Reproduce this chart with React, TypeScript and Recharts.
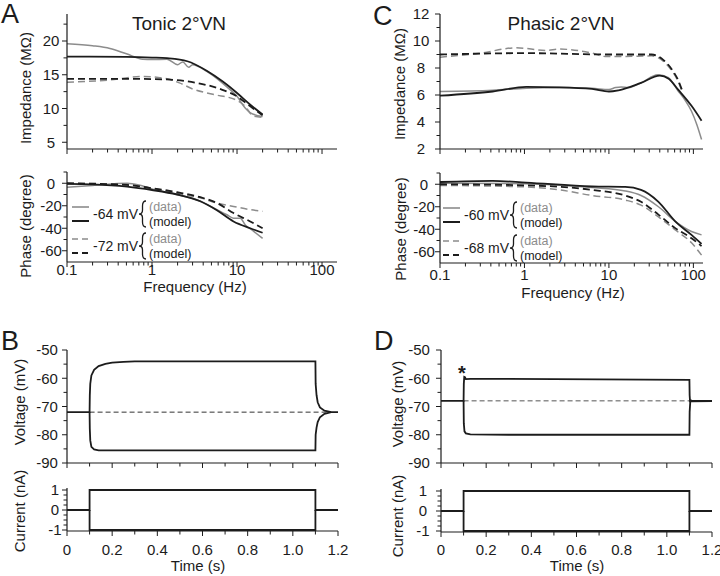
import { LineChart, Line, XAxis, YAxis } from 'recharts'

type P = [number, number]

const FONT = '"Liberation Sans", Arial, Helvetica, sans-serif'
const GRAY = '#8c8c8c'
const INK = '#1c1c1c'

// frequency (Hz), impedance (MΩ) - tonic 2°VN
const tonicImpData64: P[] = [[0.1, 19.6], [0.2, 19.3], [0.32, 18.9], [0.5, 18.1], [0.78, 17.3], [1.0, 17.25], [1.5, 17.3], [2.0, 16.5], [2.3, 16.9], [2.7, 16.1], [3.0, 16.5], [4.4, 15.5], [7.6, 13.2], [10, 11.8], [12.4, 10.1], [14.2, 9.4], [20, 8.8]]
const tonicImpModel64: P[] = [[0.1, 17.7], [0.5, 17.65], [1.0, 17.55], [1.5, 17.45], [2.6, 17.0], [4.4, 15.6], [6.8, 14.0], [10, 12.3], [14.2, 10.6], [20, 9.1]]
const tonicImpData72: P[] = [[0.1, 13.9], [0.3, 14.2], [0.78, 14.75], [1.5, 14.4], [2.1, 13.8], [3.0, 12.9], [5.2, 12.1], [10, 11.2], [12.4, 10.35], [15.5, 8.9], [20, 8.7]]
const tonicImpModel72: P[] = [[0.1, 14.4], [0.5, 14.4], [1.5, 14.3], [3.3, 13.8], [6.3, 12.9], [10, 11.8], [14.2, 10.35], [20, 9.0]]

// frequency (Hz), phase (degree) - tonic
const tonicPhData64: P[] = [[0.1, -3.5], [0.2, -2], [0.51, 0], [0.7, -1.5], [1, -5], [1.97, -10], [3.7, -16], [5.8, -23.5], [7.6, -28], [9.1, -31], [10.9, -31], [12.5, -37], [15.6, -42.6], [20, -49]]
const tonicPhModel64: P[] = [[0.1, -0.6], [0.2, -1], [0.51, -3], [1, -6], [1.97, -10], [3.7, -16], [5.8, -24], [9.1, -34], [14.3, -40], [20, -44]]
const tonicPhData72: P[] = [[0.1, 0], [0.51, -1.5], [1, -4.4], [1.97, -9], [3.7, -13], [5.8, -17.6], [9.1, -20.6], [14.3, -23.5], [20, -25]]
const tonicPhModel72: P[] = [[0.1, 0], [0.51, -1.5], [1, -4.4], [1.97, -8], [3.7, -12.4], [5.8, -17.6], [9.1, -26.5], [14.3, -34], [20, -40]]

// frequency (Hz), impedance (MΩ) - phasic 2°VN
const phasicImpData60: P[] = [[0.1, 6.26], [0.42, 6.35], [1.05, 6.5], [2.6, 6.55], [6.3, 6.5], [10, 6.4], [12, 6.55], [14, 6.6], [17, 6.55], [24, 6.9], [38, 7.5], [50, 7.3], [66, 6.3], [80, 5.6], [95, 4.8], [110, 3.8], [125, 2.7]]
const phasicImpModel60: P[] = [[0.1, 5.95], [0.42, 6.26], [1.05, 6.6], [2.6, 6.57], [6.3, 6.45], [10, 6.26], [13, 6.35], [24, 6.9], [40, 7.44], [51, 7.2], [66, 6.4], [95, 5.2], [125, 4.1]]
const phasicImpData68: P[] = [[0.1, 8.8], [0.3, 9.1], [0.8, 9.5], [1.8, 9.3], [2.6, 9.4], [6.3, 9.1], [9.1, 8.85], [15, 8.85], [32, 8.9], [44, 8.5], [57, 7.7], [66, 7.0], [74, 6.2]]
const phasicImpModel68: P[] = [[0.1, 9.0], [1.05, 9.1], [10, 9.0], [32, 9.0], [44, 8.6], [57, 7.8], [66, 7.1], [74, 6.3]]

// frequency (Hz), phase (degree) - phasic
const phasicPhData60: P[] = [[0.1, 1], [1.05, 0.5], [6.3, -3], [15.6, -6], [24, -10], [38.6, -20], [61, -33], [95, -42], [125, -45]]
const phasicPhModel60: P[] = [[0.1, 2], [0.42, 3], [1.05, 1.5], [6.3, -2], [15.6, -2.4], [24, -5], [38.6, -15.6], [61, -33], [95, -45], [125, -53]]
const phasicPhData68: P[] = [[0.1, -1], [1.05, -2.4], [2.6, -5], [6.3, -10], [15.6, -14], [24, -18.5], [38.6, -29], [61, -40.6], [95, -52], [125, -63]]
const phasicPhModel68: P[] = [[0.1, 0], [1.05, -1], [6.3, -5], [15.6, -10], [24, -15.6], [38.6, -27], [61, -39], [95, -48], [125, -55]]

// time (s), voltage (mV)
const tonicVoltUp: P[] = [[0, -72], [0.1, -72], [0.101, -66], [0.103, -62], [0.108, -59], [0.12, -57], [0.14, -55.7], [0.17, -54.9], [0.2, -54.5], [0.25, -54.2], [0.3, -54], [1.1, -54], [1.101, -62], [1.105, -66], [1.11, -68.5], [1.12, -70.3], [1.14, -71.5], [1.17, -72], [1.2, -72]]
const tonicVoltDown: P[] = [[0.1, -72], [0.101, -78], [0.103, -82], [0.108, -84.3], [0.12, -85.2], [0.14, -85.5], [1.1, -85.5], [1.101, -80], [1.105, -77.5], [1.11, -75.5], [1.12, -73.8], [1.14, -72.6], [1.17, -72]]
const tonicRest: P[] = [[0.1, -72], [1.16, -72]]
const phasicVoltUp: P[] = [[0, -68], [0.1, -68], [0.101, -62], [0.103, -59.5], [0.106, -59.6], [0.11, -60.3], [0.13, -60.2], [0.3, -60.2], [0.7, -60.4], [1.1, -60.6], [1.101, -66], [1.103, -68.5], [1.106, -67.8], [1.11, -68], [1.2, -68]]
const phasicVoltDown: P[] = [[0.1, -68], [0.101, -76], [0.104, -78.8], [0.11, -79.5], [0.13, -79.9], [0.3, -80], [1.1, -80], [1.101, -72], [1.104, -68], [1.11, -68.2], [1.2, -68.1]]
const phasicRest: P[] = [[0.1, -68], [1.1, -68]]

// time (s), current (nA)
const currentUp: P[] = [[0, 0], [0.1, 0], [0.1, 1], [1.1, 1], [1.1, 0], [1.2, 0]]
const currentDown: P[] = [[0.1, 0], [0.1, -1], [1.1, -1], [1.1, 0]]

// ticks
const freqMajor = [0.1, 1, 10, 100]
const freqMinor = [0.2, 0.3, 0.4, 0.5, 0.6, 0.7, 0.8, 0.9, 2, 3, 4, 5, 6, 7, 8, 9, 20, 30, 40, 50, 60, 70, 80, 90]
const tonicImpMajor = [5, 10, 15, 20]
const tonicImpMinor = [7.5, 12.5, 17.5, 22.5]
const phasicImpMajor = [2, 4, 6, 8, 10, 12]
const phasicImpMinor = [3, 5, 7, 9, 11]
const phaseMajor = [0, -20, -40, -60]
const phaseMinor = [10, -10, -30, -50]
const voltMajor = [-50, -60, -70, -80, -90]
const voltMinor = [-55, -65, -75, -85]
const currMajor = [1, 0, -1]
const currMinor = [0.75, 0.5, 0.25, -0.25, -0.5, -0.75]
const timeMajor = [0, 0.2, 0.4, 0.6, 0.8, 1.0, 1.2]
const timeMinor = [0.1, 0.3, 0.5, 0.7, 0.9, 1.1]

const pts = (a: P[]) => a.map(([x, y]) => ({ x, y }))
const has = (list: number[], v: number) => list.some(t => Math.abs(t - v) < 1e-9)

const fmtTime = (v: number) => (v === 0 ? '0' : v.toFixed(1))

function xTick(majors: number[], dy: number, show: boolean, fmt: (v: number) => string = String) {
  return (p: any) => {
    const v = p.payload.value
    const major = has(majors, v)
    const len = major ? 5 : 3.5
    return (
      <g>
        <line x1={p.x} x2={p.x} y1={p.y} y2={p.y + len} stroke={INK} strokeWidth={1} />
        {major && show && (
          <text x={p.x} y={p.y + dy} textAnchor="middle" fontSize={15} fontFamily={FONT} fill={INK}>{fmt(v)}</text>
        )}
      </g>
    )
  }
}

function yTick(majors: number[], dx: number) {
  return (p: any) => {
    const v = p.payload.value
    const major = has(majors, v)
    const len = major ? 5 : 3.5
    return (
      <g>
        <line x1={p.x - len} x2={p.x} y1={p.y} y2={p.y} stroke={INK} strokeWidth={1} />
        {major && (
          <text x={p.x - dx} y={p.y} dy="0.36em" textAnchor="middle" fontSize={15} fontFamily={FONT} fill={INK}>{String(v)}</text>
        )}
      </g>
    )
  }
}

const L = 60, R = 16, T = 12, B = 34
const axisLine = { stroke: INK, strokeWidth: 1.2 }

function Plot(props: any) {
  const { px, py, pw, ph, xDomain, yDomain, log, xTicks, yTicks, xT, yT, children } = props
  return (
    <div style={{ position: 'absolute', left: px - L, top: py - T }}>
      <LineChart width={pw + L + R} height={ph + T + B} margin={{ top: T, right: R, bottom: 0, left: 0 }}>
        <XAxis dataKey="x" type="number" scale={log ? 'log' : 'linear'} domain={xDomain} allowDataOverflow
          ticks={xTicks} interval={0} height={B} axisLine={axisLine} tickLine={false} tickSize={0} tickMargin={0} tick={xT} />
        <YAxis dataKey="y" type="number" domain={yDomain} allowDataOverflow ticks={yTicks} interval={0}
          width={L} axisLine={axisLine} tickLine={false} tickSize={0} tickMargin={0} tick={yT} />
        {children}
      </LineChart>
    </div>
  )
}

const line = (key: string, d: P[], color: string, w: number, dash?: string, type: any = 'monotone') => (
  <Line key={key} data={pts(d)} dataKey="y" type={type} stroke={color} strokeWidth={w}
    strokeDasharray={dash} dot={false} activeDot={false} isAnimationActive={false} />
)

function Brace({ x, y }: { x: number; y: number }) {
  return (
    <path d={`M${x + 5} ${y - 13} Q${x + 1.5} ${y - 13} ${x + 1.5} ${y - 8} L${x + 1.5} ${y - 4} Q${x + 1.5} ${y} ${x - 2} ${y} Q${x + 1.5} ${y} ${x + 1.5} ${y + 4} L${x + 1.5} ${y + 8} Q${x + 1.5} ${y + 13} ${x + 5} ${y + 13}`}
      fill="none" stroke={INK} strokeWidth={1.3} />
  )
}

function LegendBlock({ x, y, dashed, volt }: { x: number; y: number; dashed: boolean; volt: string }) {
  const dash = dashed ? '6 4' : undefined
  return (
    <g fontFamily={FONT}>
      <line x1={x} x2={x + 17} y1={y - 7} y2={y - 7} stroke={GRAY} strokeWidth={1.6} strokeDasharray={dash} />
      <line x1={x} x2={x + 17} y1={y + 7} y2={y + 7} stroke={INK} strokeWidth={2} strokeDasharray={dash} />
      <text x={x + 21} y={y} dy="0.36em" fontSize={14} fill={INK}>{volt} mV</text>
      <Brace x={x + 69} y={y} />
      <text x={x + 77} y={y - 7.5} dy="0.36em" fontSize={12.5} fill={GRAY}>(data)</text>
      <text x={x + 77} y={y + 7.5} dy="0.36em" fontSize={12.5} fill={INK}>(model)</text>
    </g>
  )
}

export default function App() {
  const freqTicks = [...freqMajor, ...freqMinor]
  const timeTicks = [...timeMajor, ...timeMinor]
  return (
    <div style={{ position: 'absolute', left: 0, top: 0, width: 720, height: 576, overflow: 'hidden', background: '#fff', fontFamily: FONT }}>
      {/* A: tonic impedance */}
      <Plot px={67} py={14} pw={270} ph={135} log xDomain={[0.1, 150]} yDomain={[4, 24]}
        xTicks={freqTicks} yTicks={[...tonicImpMajor, ...tonicImpMinor]}
        xT={xTick(freqMajor, 13, false)} yT={yTick(tonicImpMajor, 16)}>
        {line('a1', tonicImpData64, GRAY, 1.5)}
        {line('a2', tonicImpData72, GRAY, 1.5, '7 4')}
        {line('a3', tonicImpModel72, INK, 1.8, '7 4')}
        {line('a4', tonicImpModel64, INK, 1.8)}
      </Plot>
      {/* A: tonic phase */}
      <Plot px={67} py={172} pw={270} ph={90} log xDomain={[0.1, 150]} yDomain={[-70, 10]}
        xTicks={freqTicks} yTicks={[...phaseMajor, ...phaseMinor]}
        xT={xTick(freqMajor, 12.5, true)} yT={yTick(phaseMajor, 16)}>
        {line('b1', tonicPhData64, GRAY, 1.5)}
        {line('b2', tonicPhData72, GRAY, 1.5, '7 4')}
        {line('b3', tonicPhModel72, INK, 1.8, '7 4')}
        {line('b4', tonicPhModel64, INK, 1.8)}
      </Plot>
      {/* C: phasic impedance */}
      <Plot px={440} py={14} pw={263} ph={135} log xDomain={[0.1, 130]} yDomain={[2, 12]}
        xTicks={freqTicks} yTicks={[...phasicImpMajor, ...phasicImpMinor]}
        xT={xTick(freqMajor, 13, false)} yT={yTick(phasicImpMajor, 19)}>
        {line('c1', phasicImpData60, GRAY, 1.5)}
        {line('c2', phasicImpData68, GRAY, 1.5, '7 4')}
        {line('c3', phasicImpModel68, INK, 1.8, '7 4')}
        {line('c4', phasicImpModel60, INK, 1.8)}
      </Plot>
      {/* C: phasic phase */}
      <Plot px={440} py={173} pw={263} ph={90} log xDomain={[0.1, 130]} yDomain={[-70, 10]}
        xTicks={freqTicks} yTicks={[...phaseMajor, ...phaseMinor]}
        xT={xTick(freqMajor, 16.5, true)} yT={yTick(phaseMajor, 16)}>
        {line('d1', phasicPhData60, GRAY, 1.5)}
        {line('d2', phasicPhData68, GRAY, 1.5, '7 4')}
        {line('d3', phasicPhModel68, INK, 1.8, '7 4')}
        {line('d4', phasicPhModel60, INK, 1.8)}
      </Plot>
      {/* B: tonic voltage */}
      <Plot px={67} py={350} pw={271} ph={113} xDomain={[0, 1.2]} yDomain={[-90, -50]}
        xTicks={timeTicks} yTicks={[...voltMajor, ...voltMinor]}
        xT={xTick(timeMajor, 20, false)} yT={yTick(voltMajor, 20)}>
        {line('e0', tonicRest, '#333', 1, '5 3', 'linear')}
        {line('e1', tonicVoltUp, INK, 1.8, undefined, 'linear')}
        {line('e2', tonicVoltDown, INK, 1.8, undefined, 'linear')}
      </Plot>
      {/* B: current */}
      <Plot px={67} py={488} pw={271} ph={43} xDomain={[0, 1.2]} yDomain={[-1.05, 1.1]}
        xTicks={timeTicks} yTicks={[...currMajor, ...currMinor]}
        xT={xTick(timeMajor, 24, true, fmtTime)} yT={yTick(currMajor, 12)}>
        {line('f1', currentUp, INK, 1.8, undefined, 'linear')}
        {line('f2', currentDown, INK, 1.8, undefined, 'linear')}
      </Plot>
      {/* D: phasic voltage */}
      <Plot px={441} py={350} pw={271} ph={113} xDomain={[0, 1.2]} yDomain={[-90, -50]}
        xTicks={timeTicks} yTicks={[...voltMajor, ...voltMinor]}
        xT={xTick(timeMajor, 20, false)} yT={yTick(voltMajor, 22)}>
        {line('g0', phasicRest, '#555', 1, '5 3', 'linear')}
        {line('g1', phasicVoltUp, INK, 1.8, undefined, 'linear')}
        {line('g2', phasicVoltDown, INK, 1.8, undefined, 'linear')}
      </Plot>
      {/* D: current */}
      <Plot px={441} py={489} pw={271} ph={43} xDomain={[0, 1.2]} yDomain={[-1.05, 1.1]}
        xTicks={timeTicks} yTicks={[...currMajor, ...currMinor]}
        xT={xTick(timeMajor, 23, true, fmtTime)} yT={yTick(currMajor, 18)}>
        {line('h1', currentUp, INK, 1.8, undefined, 'linear')}
        {line('h2', currentDown, INK, 1.8, undefined, 'linear')}
      </Plot>

      <svg width={720} height={576} style={{ position: 'absolute', left: 0, top: 0, pointerEvents: 'none' }} fontFamily={FONT} fill={INK}>
        <text x={1} y={23} fontSize={27}>A</text>
        <text x={1} y={350} fontSize={27}>B</text>
        <text x={373} y={25} fontSize={27}>C</text>
        <text x={374} y={350} fontSize={27}>D</text>
        <text x={179} y={30} fontSize={19} textAnchor="middle">Tonic 2°VN</text>
        <text x={561} y={30} fontSize={19} textAnchor="middle">Phasic 2°VN</text>

        <text transform="translate(26 88) rotate(-90)" fontSize={15} textAnchor="middle" dy="0.36em">Impedance (MΩ)</text>
        <text transform="translate(26 226) rotate(-90)" fontSize={15} textAnchor="middle" dy="0.36em">Phase (degree)</text>
        <text x={195} y={292} fontSize={15} textAnchor="middle">Frequency (Hz)</text>
        <text transform="translate(400 84) rotate(-90)" fontSize={15} textAnchor="middle" dy="0.36em">Impedance (MΩ)</text>
        <text transform="translate(401 229) rotate(-90)" fontSize={15} textAnchor="middle" dy="0.36em">Phase (degree)</text>
        <text x={573} y={298} fontSize={15} textAnchor="middle">Frequency (Hz)</text>

        <text transform="translate(20 402) rotate(-90)" fontSize={15} textAnchor="middle" dy="0.36em">Voltage (mV)</text>
        <text transform="translate(20 511) rotate(-90)" fontSize={15} textAnchor="middle" dy="0.36em">Current (nA)</text>
        <text x={198} y={571} fontSize={15} textAnchor="middle">Time (s)</text>
        <text transform="translate(398 404) rotate(-90)" fontSize={15} textAnchor="middle" dy="0.36em">Voltage (mV)</text>
        <text transform="translate(398 516) rotate(-90)" fontSize={15} textAnchor="middle" dy="0.36em">Current (nA)</text>
        <text x={577} y={571} fontSize={15} textAnchor="middle">Time (s)</text>

        <text x={462} y={380} fontSize={20} fontWeight="bold" textAnchor="middle">*</text>

        <LegendBlock x={72} y={214} dashed={false} volt="-64" />
        <LegendBlock x={72} y={246} dashed volt="-72" />
        <LegendBlock x={443} y={215} dashed={false} volt="-60" />
        <LegendBlock x={443} y={248} dashed volt="-68" />
      </svg>
    </div>
  )
}
